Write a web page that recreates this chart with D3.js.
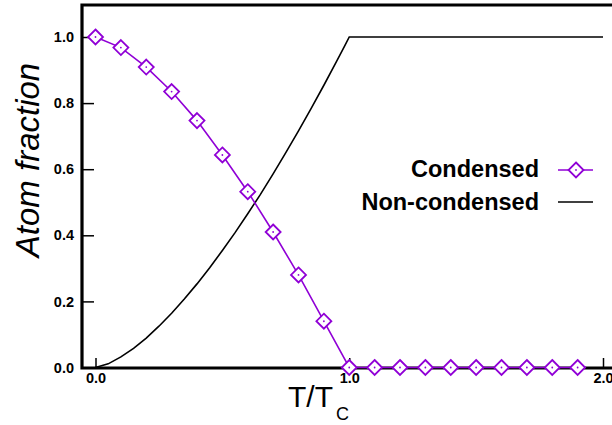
<!DOCTYPE html>
<html>
<head>
<meta charset="utf-8">
<script src="https://cdn.jsdelivr.net/npm/d3@7"></script>
<style>
  html, body { margin: 0; padding: 0; background: #fff; }
  svg { display: block; }
</style>
</head>
<body>
<svg id="chart" width="612" height="425"></svg>
<script>
// Reduced temperature T/Tc for the condensed-fraction samples
const condensedT = [0, 0.1, 0.2, 0.3, 0.4, 0.5, 0.6, 0.7, 0.8, 0.9, 1.0,
                    1.1, 1.2, 1.3, 1.4, 1.5, 1.6, 1.7, 1.8, 1.9];
const condensedFrac = [1.0, 0.968, 0.909, 0.835, 0.747, 0.643, 0.532, 0.410, 0.280, 0.140, 0.0,
                       0, 0, 0, 0, 0, 0, 0, 0, 0];

// Non-condensed (thermal) fraction along a finer temperature grid
const thermalT = [0, 0.05, 0.1, 0.15, 0.2, 0.25, 0.3, 0.35, 0.4, 0.45, 0.5,
                  0.55, 0.6, 0.65, 0.7, 0.75, 0.8, 0.85, 0.9, 0.95, 0.98, 1.0, 2.0];
const thermalFrac = [0, 0.011, 0.032, 0.058, 0.089, 0.125, 0.164, 0.207, 0.253, 0.302, 0.354,
                     0.408, 0.465, 0.524, 0.586, 0.650, 0.716, 0.784, 0.854, 0.926, 0.970, 1.0, 1.0];

const xTicks = [0, 1, 2];
const xTickLabels = ["0.0", "1.0", "2.0"];
const yTicks = [0, 0.2, 0.4, 0.6, 0.8, 1.0];
const yTickLabels = ["0.0", "0.2", "0.4", "0.6", "0.8", "1.0"];
const seriesNames = ["Condensed", "Non-condensed"];

const purple = "#9000d6";
const font = "'Liberation Sans', Arial, Helvetica, sans-serif";

const svg = d3.select("#chart");

const x = d3.scaleLinear().domain([0, 2]).range([95.5, 603]);
const y = d3.scaleLinear().domain([0, 1]).range([367.5, 37]);

const frameLeft = 82, frameTop = 5, frameBottom = 368;

// Plot frame: left, top and bottom rules
svg.append("path")
  .attr("d", `M612,${frameTop} H${frameLeft} V${frameBottom} H612`)
  .attr("fill", "none")
  .attr("stroke", "#000")
  .attr("stroke-width", 3.2);

// Y axis: inward ticks, bold labels
const yAxis = d3.axisLeft(y)
  .tickValues(yTicks)
  .tickFormat((d, i) => yTickLabels[i])
  .tickSizeInner(-12)
  .tickSizeOuter(0)
  .tickPadding(8);
const gy = svg.append("g").attr("transform", `translate(${frameLeft},0)`).call(yAxis);
gy.select(".domain").remove();
gy.selectAll(".tick line").attr("stroke-width", 1.5);
gy.selectAll(".tick text")
  .attr("font-family", font).attr("font-weight", "bold").attr("font-size", 14.5).attr("fill", "#000");

// X axis: upward ticks, bold labels
const xAxis = d3.axisBottom(x)
  .tickValues(xTicks)
  .tickFormat((d, i) => xTickLabels[i])
  .tickSizeInner(-10)
  .tickSizeOuter(0)
  .tickPadding(5);
const gx = svg.append("g").attr("transform", `translate(0,${frameBottom})`).call(xAxis);
gx.select(".domain").remove();
gx.selectAll(".tick line").attr("stroke-width", 1.5);
gx.selectAll(".tick text")
  .attr("font-family", font).attr("font-weight", "bold").attr("font-size", 14.5).attr("fill", "#000");

// Axis titles
svg.append("text")
  .attr("transform", "translate(39,160) rotate(-90)")
  .attr("text-anchor", "middle")
  .attr("font-family", font).attr("font-style", "italic").attr("font-size", 33)
  .text("Atom fraction");

const xt = svg.append("text")
  .attr("x", 288).attr("y", 407)
  .attr("font-family", font).attr("font-size", 30);
xt.append("tspan").text("T/T");
xt.append("tspan").attr("dx", 3).attr("dy", 13).attr("font-size", 18).text("C");

// Series
const line = d3.line().x(d => x(d[0])).y(d => y(d[1]));

const thermal = thermalT.map((t, i) => [t, thermalFrac[i]]);
svg.append("path")
  .datum(thermal)
  .attr("d", line)
  .attr("fill", "none")
  .attr("stroke", "#000")
  .attr("stroke-width", 1.6);

const condensed = condensedT.map((t, i) => [t, condensedFrac[i]]);
svg.append("path")
  .datum(condensed)
  .attr("d", line)
  .attr("fill", "none")
  .attr("stroke", purple)
  .attr("stroke-width", 1.6);

const diamond = (s) => `M0,${-s} L${s},0 L0,${s} L${-s},0 Z`;

function drawMarker(g) {
  g.append("path").attr("d", diamond(7.5))
    .attr("fill", "#fff").attr("stroke", purple).attr("stroke-width", 1.8);
  g.append("circle").attr("r", 0.9).attr("fill", purple);
}

svg.append("g").selectAll("g.marker")
  .data(condensed)
  .join("g")
  .attr("class", "marker")
  .attr("transform", d => `translate(${x(d[0])},${y(d[1])})`)
  .each(function () { drawMarker(d3.select(this)); });

// Legend
const legend = svg.append("g");
const legendRows = [
  { name: seriesNames[0], yText: 177, yLine: 170, color: purple, marker: true },
  { name: seriesNames[1], yText: 210, yLine: 202, color: "#000", marker: false }
];
legendRows.forEach(r => {
  legend.append("text")
    .attr("x", 539).attr("y", r.yText)
    .attr("text-anchor", "end")
    .attr("font-family", font).attr("font-weight", "bold").attr("font-size", 23.5)
    .text(r.name);
  legend.append("line")
    .attr("x1", 558).attr("x2", 593).attr("y1", r.yLine).attr("y2", r.yLine)
    .attr("stroke", r.color).attr("stroke-width", 1.6);
  if (r.marker) {
    drawMarker(legend.append("g").attr("transform", `translate(576,${r.yLine})`));
  }
});
</script>
</body>
</html>
